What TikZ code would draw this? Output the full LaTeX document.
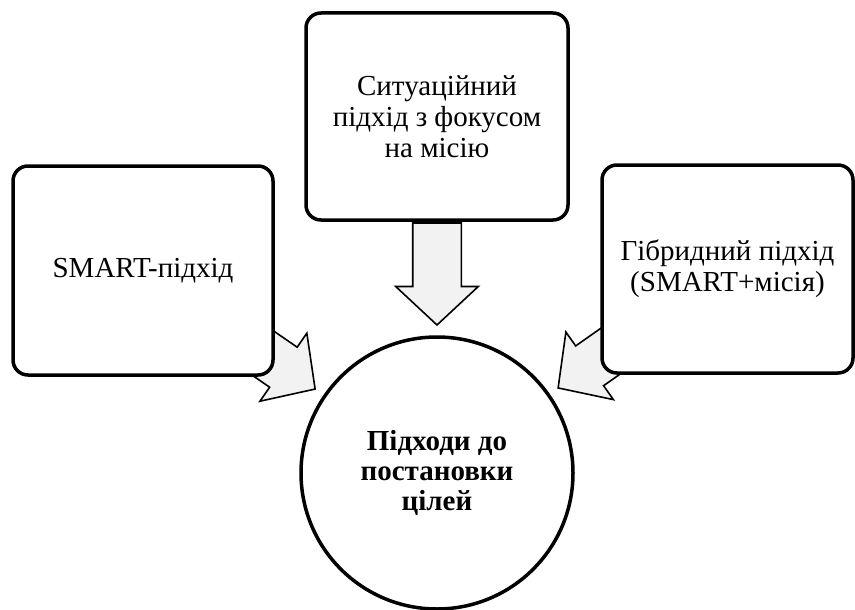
\documentclass[tikz,border=0pt]{standalone}
\usepackage{fontspec}
\setmainfont{Liberation Serif}
\usetikzlibrary{shapes.arrows,calc,backgrounds}
\definecolor{arrowfill}{RGB}{242,242,242}
\tikzset{
  box/.style={draw, line width=3.5pt, rounded corners=15pt, fill=white, align=center,
    inner sep=0pt, font=\fontsize{29}{31}\selectfont},
  hub/.style={draw, circle, line width=3.5pt, fill=white, align=center, inner sep=0pt,
    minimum size=272pt, font=\fontsize{29}{30}\selectfont\bfseries},
  blockarrow/.style={draw, line width=1.6pt, fill=arrowfill, single arrow, inner xsep=0pt,
    inner ysep=23.5pt, outer sep=0pt, minimum height=102pt, minimum width=81pt,
    single arrow head extend=17pt, single arrow tip angle=94, anchor=tip}
}
\begin{document}
\begin{tikzpicture}[x=1pt,y=1pt]
\useasboundingbox (0,0) rectangle (855,-610);
\node[box, minimum width=260pt, minimum height=209pt] (L) at (143,-270.5) {SMART-підхід};
\node[box, minimum width=262pt, minimum height=207pt] (T) at (437,-116.5) {Ситуаційний\\підхід з фокусом\\на місію};
\node[box, minimum width=251pt, minimum height=208pt] (R) at (727.5,-269) {Гібридний підхід\\(SMART+місія)};
\node[hub] (C) at (437,-473) {Підходи до\\постановки\\цілей};
\begin{scope}[on background layer]
\node[blockarrow, rotate=-34.56] (aL) at ($(C.center)!148pt!(L.center)$) {};
\node[blockarrow, rotate=-90] (aT) at ($(C.center)!148pt!(T.center)$) {};
\node[blockarrow, rotate=215.08] (aR) at ($(C.center)!148pt!(R.center)$) {};
\end{scope}
\end{tikzpicture}
\end{document}
